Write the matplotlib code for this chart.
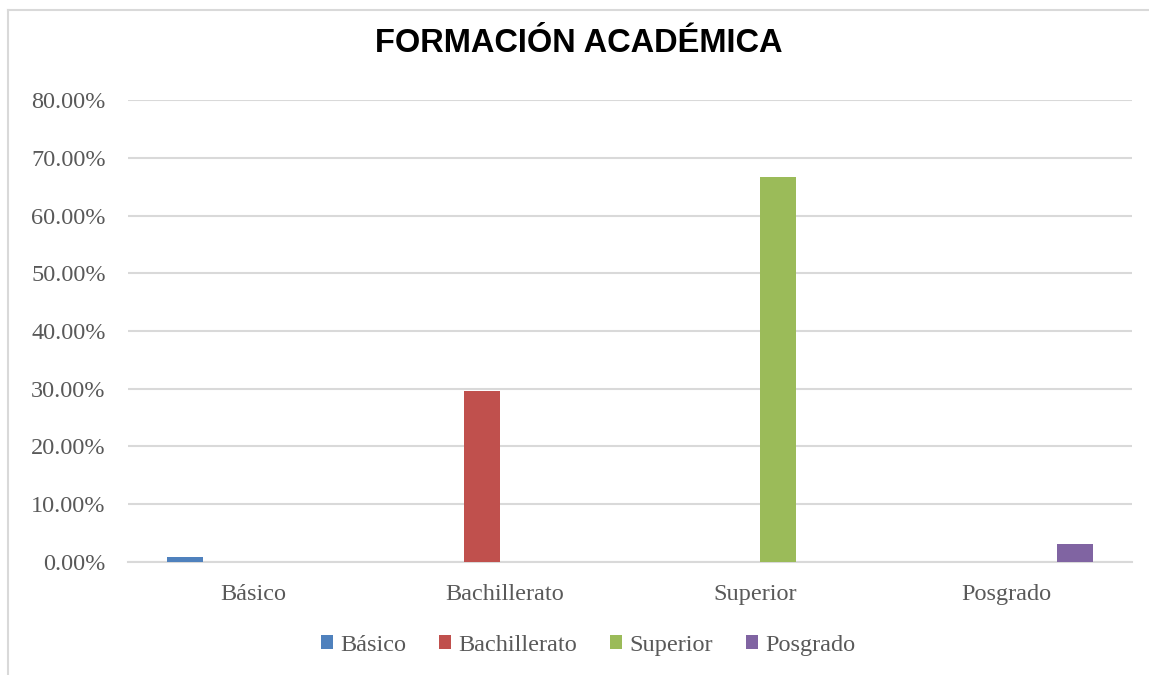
import numpy as np
import matplotlib
matplotlib.use('Agg')
import matplotlib.pyplot as plt
from matplotlib.ticker import PercentFormatter, MultipleLocator
from matplotlib.lines import Line2D

# ------------------- 数据 -------------------
categories = ['Básico', 'Bachillerato', 'Superior', 'Posgrado']
series_names = ['Básico', 'Bachillerato', 'Superior', 'Posgrado']
basico = [0.74, 0, 0, 0]
bachillerato = [0, 29.63, 0, 0]
superior = [0, 0, 66.67, 0]
posgrado = [0, 0, 0, 2.96]
series_values = [basico, bachillerato, superior, posgrado]
colors = ['#4F81BD', '#C0504D', '#9BBB59', '#8064A2']

tick_font = 'Liberation Serif'
grid_color = '#D9D9D9'
text_color = '#595959'

fig = plt.figure(figsize=(11.49, 6.75), dpi=100)
ax = fig.add_axes([0.1114, 0.1681, 0.8738, 0.6833])

x = np.arange(len(categories))
step = 0.181
width = 0.143
for i, (name, vals) in enumerate(zip(series_names, series_values)):
    ax.bar(x + (i - 1.5) * step, vals, width=width, color=colors[i], label=name, zorder=3)

ax.set_xlim(-0.5, len(categories) - 0.5)
ax.set_ylim(0, 80)
ax.yaxis.set_major_locator(MultipleLocator(10))
ax.yaxis.set_major_formatter(PercentFormatter(decimals=2))
ax.grid(axis='y', color=grid_color, linewidth=1.5, zorder=0)
ax.set_axisbelow(True)

for s in ['top', 'right', 'left']:
    ax.spines[s].set_visible(False)
ax.spines['bottom'].set_color(grid_color)
ax.spines['bottom'].set_linewidth(1.5)

ax.set_xticks(x)
ax.set_xticklabels(categories)
ax.tick_params(axis='x', length=0, pad=16, labelsize=17.5, labelcolor=text_color)
ax.tick_params(axis='y', length=0, pad=16, labelsize=17.5, labelcolor=text_color)
for lab in ax.get_xticklabels() + ax.get_yticklabels():
    lab.set_fontfamily(tick_font)

fig.text(0.504, 0.935, 'FORMACIÓN ACADÉMICA', ha='center', va='center',
         fontsize=23.5, fontweight='bold', family='Liberation Sans', color='black')

leg = fig.legend(loc='center', bbox_to_anchor=(0.512, 0.0444), ncol=4, frameon=False,
                 prop={'family': tick_font, 'size': 17.5},
                 handlelength=0.5, handleheight=0.5, handletextpad=0.3,
                 columnspacing=1.35)
for t in leg.get_texts():
    t.set_color(text_color)

# 外边框（只有上、左两条可见）
W, H = 1149, 675
fig.add_artist(Line2D([8 / W, 1], [1 - 10 / H, 1 - 10 / H], color=grid_color, linewidth=1.5,
                      transform=fig.transFigure))
fig.add_artist(Line2D([8 / W, 8 / W], [0, 1 - 10 / H], color=grid_color, linewidth=1.5,
                      transform=fig.transFigure))

fig.savefig('out.png', dpi=100)
